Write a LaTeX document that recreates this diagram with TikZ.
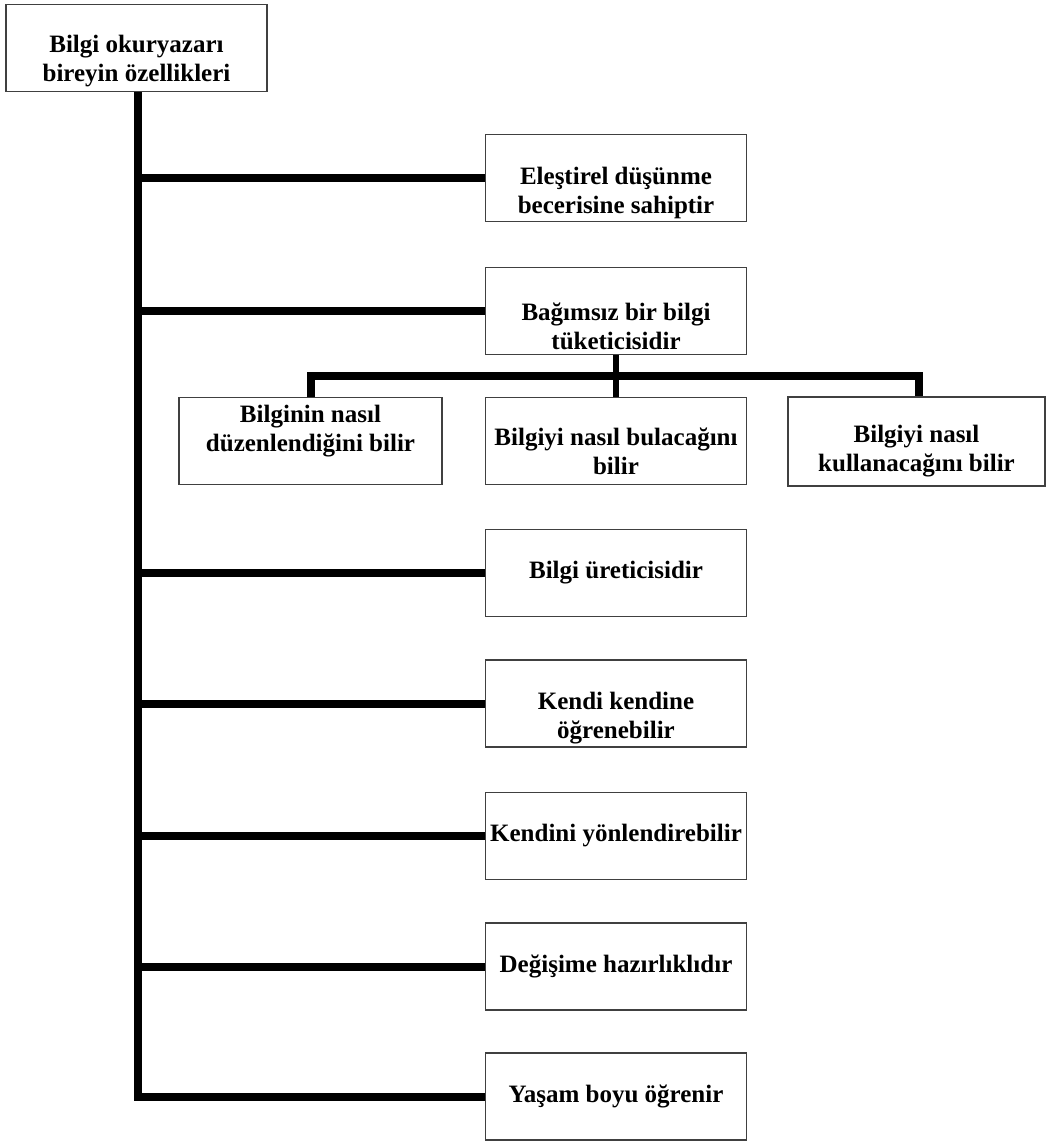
\documentclass[tikz,border=0pt]{standalone}
\usepackage{fontspec}
\setmainfont{Liberation Serif}
\usetikzlibrary{backgrounds}
\begin{document}
\begin{tikzpicture}[x=1pt,y=-1pt,
  box/.style={draw=black!75, line width=1.8pt, minimum width=261pt, minimum height=87pt, inner sep=0pt, fill=white},
  txt/.style={align=center, inner sep=0pt, font=\fontsize{25}{29}\selectfont\bfseries},
  conn/.style={line width=8pt, black, line join=miter}]
\useasboundingbox (0,0) rectangle (1047,1142);
% boxes
\node[box] (root) at (136.5,48) {};
\node[box] (b1) at (616,178) {};
\node[box] (b2) at (616,311) {};
\node[box, minimum width=263pt] (s1) at (310.5,441) {};
\node[box] (s2) at (616,441) {};
\node[box, minimum width=257pt, minimum height=89pt] (s3) at (916.5,441.5) {};
\node[box] (b3) at (616,573) {};
\node[box] (b4) at (616,703.5) {};
\node[box] (b5) at (616,836) {};
\node[box] (b6) at (616,966.5) {};
\node[box] (b7) at (616,1096.5) {};
% texts
\node[txt] (root-t) at ([yshift=-13pt]root.center) {Bilgi okuryazarı\\bireyin özellikleri};
\node[txt] (b1-t) at ([yshift=-15pt]b1.center) {Eleştirel düşünme\\becerisine sahiptir};
\node[txt] (b2-t) at ([yshift=-15pt]b2.center) {Bağımsız bir bilgi\\tüketicisidir};
\node[txt] (s1-t) at ([yshift=10pt]s1.center) {Bilginin nasıl\\düzenlendiğini bilir};
\node[txt] (s2-t) at ([yshift=-10pt]s2.center) {Bilgiyi nasıl bulacağını\\bilir};
\node[txt] (s3-t) at ([yshift=-10pt]s3.center) {Bilgiyi nasıl\\kullanacağını bilir};
\node[txt] (b3-t) at (b3.center) {Bilgi üreticisidir};
\node[txt] (b4-t) at ([yshift=-15pt]b4.center) {Kendi kendine\\öğrenebilir};
\node[txt] (b5-t) at (b5.center) {Kendini yönlendirebilir};
\node[txt] (b6-t) at (b6.center) {Değişime hazırlıklıdır};
\node[txt] (b7-t) at (b7.center) {Yaşam boyu öğrenir};
% connectors
\begin{scope}[on background layer]
\coordinate (trunk) at (138,0);
\coordinate (bar) at (0,376);
\draw[conn] (root.south -| trunk) -- (trunk |- b7.west) -- (b7.west);
\foreach \b in {b1,b2,b3,b4,b5,b6}{
  \draw[conn, line cap=butt] ([xshift=-4pt]trunk |- \b.west) -- (\b.west);
}
\draw[conn] (s1.north) -- (s1.north |- bar) -- ([xshift=2.5pt]s3.north |- bar) -- ([xshift=2.5pt]s3.north);
\draw[conn, line width=6pt] (b2.south) -- (s2.north);
\end{scope}
\end{tikzpicture}
\end{document}
